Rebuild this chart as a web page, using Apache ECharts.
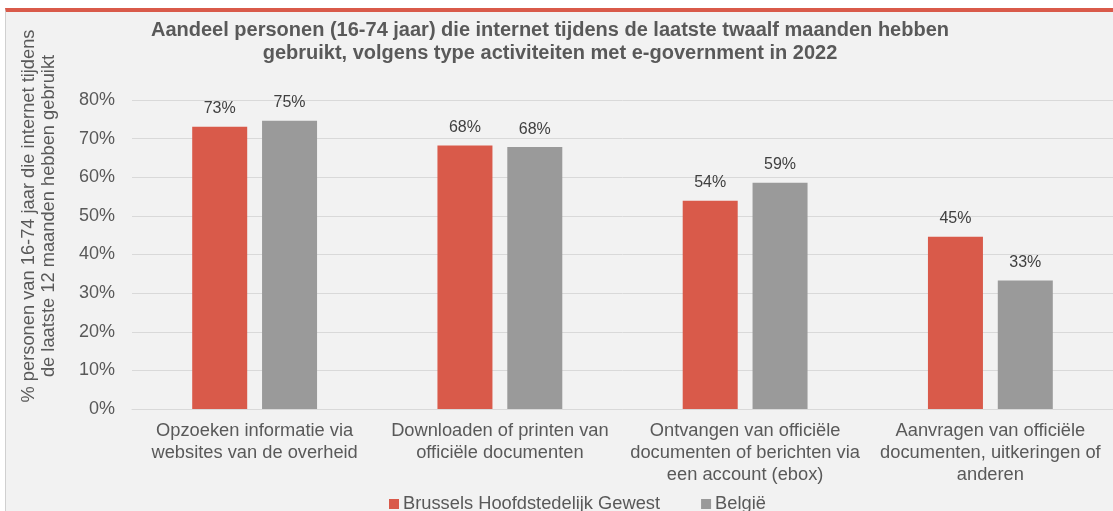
<!DOCTYPE html>
<html>
<head>
<meta charset="utf-8">
<script src="https://cdn.jsdelivr.net/npm/echarts@6/dist/echarts.min.js"></script>
<style>
  html, body { margin: 0; padding: 0; background: #fff; }
  #wrap { position: relative; width: 1113px; height: 511px; overflow: hidden; }
  #bg {
    position: absolute; top: 8px; left: 5px; right: 0; bottom: 0;
    background: #F2F2F2; border-top: 4px solid #D95A4A; border-left: 1px solid #D0D0D0;
  }
  #chart { position: absolute; top: 0; left: 0; width: 1113px; height: 511px; }
</style>
</head>
<body>
<div id="wrap">
  <div id="bg"></div>
  <div id="chart"></div>
</div>
<script>
// categorieën en waarden (in %)
const categories = [
  'Opzoeken informatie via\nwebsites van de overheid',
  'Downloaden of printen van\nofficiële documenten',
  'Ontvangen van officiële\ndocumenten of berichten via\neen account (ebox)',
  'Aanvragen van officiële\ndocumenten, uitkeringen of\nanderen'
]
const brussels = [73.1, 68.2, 53.9, 44.6]
const belgie = [74.6, 67.8, 58.6, 33.3]
const yTicks = [0, 10, 20, 30, 40, 50, 60, 70, 80]

const RED = '#D95A4A'
const GREY = '#9A9A9A'
const TEXT = '#595959'
const FONT = 'Liberation Sans, Arial, sans-serif'

const chart = echarts.init(document.getElementById('chart'))

const labelOpt = {
  show: true,
  position: 'top',
  distance: 10,
  color: '#404040',
  fontSize: 16,
  fontFamily: FONT,
  formatter: p => Math.round(p.value) + '%'
}

chart.setOption({
  backgroundColor: 'transparent',
  animation: false,
  textStyle: { fontFamily: FONT },
  title: {
    text: 'Aandeel personen (16-74 jaar) die internet tijdens de laatste twaalf maanden hebben\ngebruikt, volgens type activiteiten met e-government in 2022',
    left: 545,
    top: 14,
    textAlign: 'center',
    textStyle: { color: TEXT, fontSize: 20, fontWeight: 'bold', lineHeight: 23, fontFamily: FONT }
  },
  graphic: [{
    type: 'text',
    x: 19,
    y: 216,
    rotation: Math.PI / 2,
    style: {
      text: '% personen van 16-74 jaar die internet tijdens\nde laatste 12 maanden hebben gebruikt',
      fill: TEXT,
      font: '18.3px ' + FONT,
      lineHeight: 20,
      align: 'center',
      verticalAlign: 'top'
    }
  }],
  legend: {
    left: 384,
    top: 490,
    itemWidth: 10,
    itemHeight: 10,
    itemGap: 41,
    icon: 'rect',
    textStyle: { color: TEXT, fontSize: 18.3, fontFamily: FONT, padding: [0, 0, 0, -1] },
    data: ['Brussels Hoofdstedelijk Gewest', 'België']
  },
  grid: { left: 132, top: 100, width: 983, height: 309, containLabel: false },
  xAxis: {
    type: 'category',
    data: categories,
    axisLine: { lineStyle: { color: '#D9D9D9', width: 1 } },
    axisTick: { show: false },
    axisLabel: { color: TEXT, fontSize: 18.3, lineHeight: 22, margin: 11, interval: 0, fontFamily: FONT }
  },
  yAxis: {
    type: 'value',
    min: yTicks[0],
    max: yTicks[yTicks.length - 1],
    interval: 10,
    axisLine: { show: false },
    axisTick: { show: false },
    axisLabel: { color: TEXT, fontSize: 18, margin: 17, formatter: '{value}%', fontFamily: FONT },
    splitLine: { lineStyle: { color: '#D9D9D9', width: 1 } }
  },
  series: [
    {
      name: 'Brussels Hoofdstedelijk Gewest',
      type: 'bar',
      data: brussels,
      barWidth: 55,
      barGap: '27%',
      itemStyle: { color: RED },
      label: labelOpt
    },
    {
      name: 'België',
      type: 'bar',
      data: belgie,
      barWidth: 55,
      itemStyle: { color: GREY },
      label: labelOpt
    }
  ]
})
</script>
</body>
</html>
